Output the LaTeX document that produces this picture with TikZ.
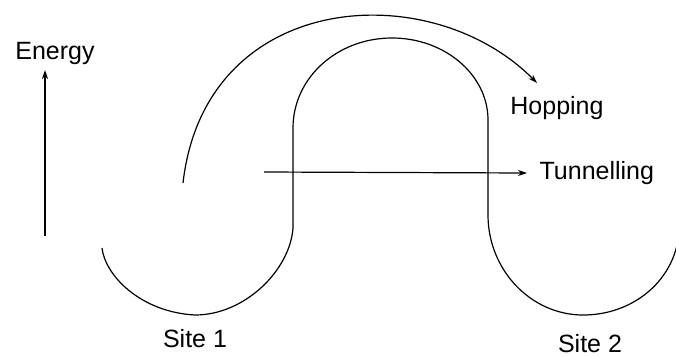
\documentclass[tikz,border=0pt]{standalone}
\usepackage{fontspec}
\setmainfont{Liberation Sans}
\usetikzlibrary{positioning,arrows.meta}

\begin{document}
\begin{tikzpicture}[x=1pt,y=-1pt,line width=1.2pt,>={Stealth[length=9pt,width=6pt]},
                    label/.style={inner sep=0pt,font=\fontsize{25}{30}\selectfont},
                    well/.style={draw,line join=round}]
  \useasboundingbox (0,0) rectangle (676,357);
  % energy axis
  \coordinate (ebot) at (45,236);
  \coordinate (etop) at (45,70);
  \node[label] (energy) at (55,53) {Energy};
  \draw[->] (ebot) -- (etop);
  % potential: two wells and the barrier between them
  \coordinate (well1) at (195,315);
  \coordinate (well2) at (583,315);
  \draw[well] (102,248) .. controls (105,275) and (140,312) .. (well1)
              .. controls (245,315) and (290,270) .. (293,228)
              -- (293,128)
              .. controls (293,78) and (337,38) .. (392,38)
              .. controls (445,38) and (488,75) .. (488,120)
              -- (488,215)
              .. controls (488,270) and (531,315) .. (well2)
              .. controls (630,315) and (668,285) .. (677,245);
  \node[label,below=14pt of well1] (site1) {Site 1};
  \node[label,below=19pt of well2,xshift=7pt] (site2) {Site 2};
  % hopping over the barrier
  \coordinate (hstart) at (183,183);
  \coordinate (hend) at (537,83);
  \node[label] (hopping) at (557,108) {Hopping};
  \draw[->] (hstart) .. controls (205,-10) and (430,-25) .. (hend);
  % tunnelling through it
  \coordinate (tstart) at (264,172);
  \node[label,anchor=west] (tunnel) at (539,173) {Tunnelling};
  \draw[->] (tstart) -- ([xshift=-12pt]tunnel.west);
\end{tikzpicture}
\end{document}
